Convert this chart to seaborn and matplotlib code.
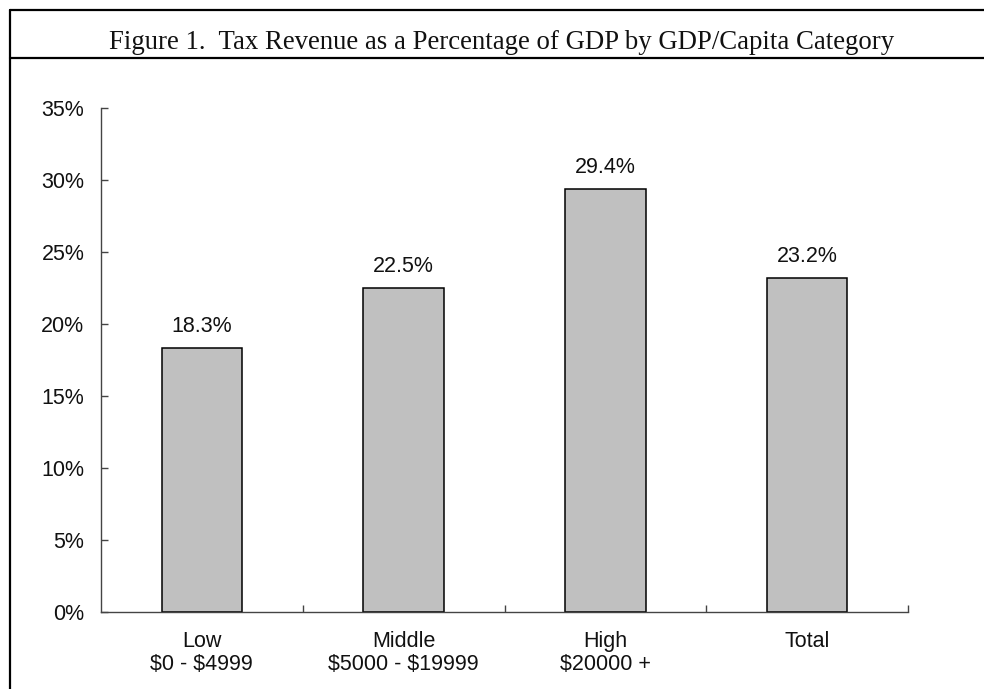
import matplotlib
matplotlib.use("Agg")
import matplotlib.pyplot as plt
from matplotlib.lines import Line2D
from matplotlib.ticker import FixedLocator, FuncFormatter
import seaborn as sns
import pandas as pd

# chart data
categories = ["Low\n$0 - $4999", "Middle\n$5000 - $19999", "High\n$20000 +", "Total"]
tax_share = [18.3, 22.5, 29.4, 23.2]
bar_labels = ["18.3%", "22.5%", "29.4%", "23.2%"]
y_ticks = [0, 5, 10, 15, 20, 25, 30, 35]

title = "Figure 1.  Tax Revenue as a Percentage of GDP by GDP/Capita Category"

sns.set_theme(style="white")
plt.rcParams["font.family"] = ["Liberation Sans", "DejaVu Sans"]
plt.rcParams["text.parse_math"] = False  # keep the dollar signs literal

df = pd.DataFrame({"category": categories, "share": tax_share})

fig = plt.figure(figsize=(9.84, 6.89), dpi=100)
ax = fig.add_axes([101 / 984, 1 - 612 / 689, 807 / 984, 504 / 689])

sns.barplot(data=df, x="category", y="share", color="#C0C0C0", saturation=1,
            edgecolor="black", linewidth=1.1, width=0.4, ax=ax)

ax.bar_label(ax.containers[0], labels=bar_labels, padding=8, fontsize=15.5, color="#111111")

ax.set_ylim(0, 35)
ax.set_xlim(-0.5, 3.5)
ax.set_yticks(y_ticks)
ax.yaxis.set_major_formatter(FuncFormatter(lambda v, p: f"{int(v)}%"))
ax.set_xlabel("")
ax.set_ylabel("")

# ticks between the categories, pointing up
ax.xaxis.set_minor_locator(FixedLocator([0.5, 1.5, 2.5, 3.5]))
ax.tick_params(axis="x", which="major", length=0, pad=14, labelsize=15.5, labelcolor="#111111")
ax.tick_params(axis="x", which="minor", direction="in", length=5, width=1, color="#444444", bottom=True)
ax.tick_params(axis="y", which="major", direction="in", length=5, width=1, color="#444444",
               pad=12, labelsize=15.5, labelcolor="#111111", left=True)
for lab in ax.get_xticklabels():
    lab.set_linespacing(1.1)

for side in ["top", "right"]:
    ax.spines[side].set_visible(False)
for side in ["left", "bottom"]:
    ax.spines[side].set_color("#444444")
    ax.spines[side].set_linewidth(1)

# frame round the figure and title box
fig.add_artist(Line2D([10 / 984, 10 / 984], [0, 1 - 10 / 689], color="black", lw=1.6))
fig.add_artist(Line2D([10 / 984, 1], [1 - 10 / 689, 1 - 10 / 689], color="black", lw=1.6))
fig.add_artist(Line2D([10 / 984, 1], [1 - 58 / 689, 1 - 58 / 689], color="black", lw=1.6))

fig.text(502 / 984, 1 - 49 / 689, title, ha="center", va="baseline",
         fontsize=19.3, family=["Liberation Serif", "DejaVu Serif"], color="#111111")

fig.savefig("out.png", dpi=100)
